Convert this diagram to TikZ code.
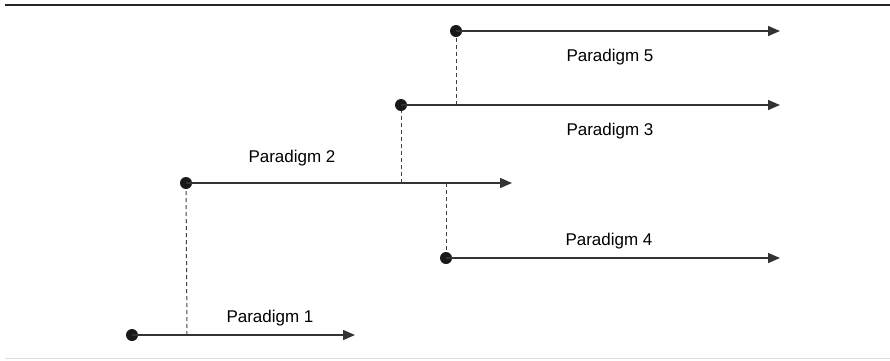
\documentclass[tikz,border=0pt]{standalone}
\usepackage{fontspec}
\setmainfont{Liberation Sans}
\usetikzlibrary{arrows.meta}
\begin{document}
\begin{tikzpicture}[x=1pt,y=-1pt,
  tl/.style={draw=black!80, line width=1.4pt, -{Triangle[length=12pt,width=10pt]}},
  dotn/.style={circle, fill=black!90, inner sep=0pt, minimum size=12pt},
  dsh/.style={draw=black!75, line width=1pt, dash pattern=on 4pt off 3pt},
  lbl/.style={font=\fontsize{17}{20}\selectfont, text=black, inner sep=0pt}]
\useasboundingbox (0,0) rectangle (890,360);
\draw[line width=2pt, black!85] (5,5) -- (890,5);
\draw[line width=1pt, black!12] (5,358) -- (890,358);
% dots
\node[dotn] (d1) at (132,335) {};
\node[dotn] (d2) at (186,183) {};
\node[dotn] (d3) at (401,105) {};
\node[dotn] (d4) at (446,258) {};
\node[dotn] (d5) at (456,31) {};
% ends
\coordinate (e1) at (355,335);
\coordinate (e2) at (512,183);
\coordinate (e3) at (780,105);
\coordinate (e4) at (780,258);
\coordinate (e5) at (780,31);
\draw[tl] (d1.center) -- (e1);
\draw[tl] (d2.center) -- (e2);
\draw[tl] (d3.center) -- (e3);
\draw[tl] (d4.center) -- (e4);
\draw[tl] (d5.center) -- (e5);
% dashed connectors
\coordinate (b1) at (187,335);
\coordinate (b2a) at (401,183);
\coordinate (b2b) at (446,183);
\coordinate (b3) at (456,105);
\draw[dsh] (b1) -- (d2);
\draw[dsh] (b2a) -- (d3);
\draw[dsh] (b2b) -- (d4);
\draw[dsh] (b3) -- (d5);
% labels
\node[lbl] (l5) at (610,57) {Paradigm 5};
\node[lbl] (l3) at (610,131) {Paradigm 3};
\node[lbl] (l2) at (292,158) {Paradigm 2};
\node[lbl] (l4) at (609,241) {Paradigm 4};
\node[lbl] (l1) at (270,318) {Paradigm 1};
\end{tikzpicture}
\end{document}
